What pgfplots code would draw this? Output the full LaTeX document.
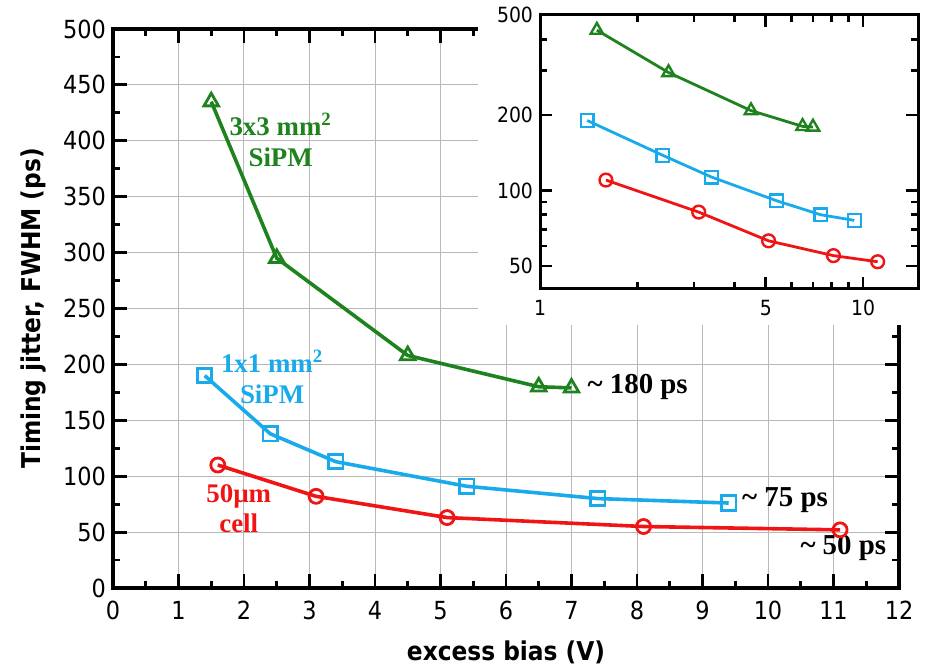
\documentclass[border=0pt]{standalone}
\usepackage{fontspec}
\setmainfont{Liberation Serif}
\newfontfamily\tickfont{DejaVu Sans Condensed}
\usepackage{pgfplots}
\pgfplotsset{compat=1.18}
\definecolor{cgreen}{RGB}{30,130,30}
\definecolor{cblue}{RGB}{25,170,235}
\definecolor{cred}{RGB}{240,20,20}
\pgfplotstableread{
x y
1.5 435
2.5 295
4.5 208
6.5 180
7.0 179
}\greendata
\pgfplotstableread{
x y
1.4 190
2.4 138
3.4 113
5.4 91
7.4 80
9.4 76
}\bluedata
\pgfplotstableread{
x y
1.6 110
3.1 82
5.1 63
8.1 55
11.1 52
}\reddata
\begin{document}
\begin{tikzpicture}
\useasboundingbox (-56.5bp,-41bp) rectangle (407bp,294bp);
\begin{axis}[at={(0,0)}, anchor=south west, scale only axis,
  width=393bp, height=279.5bp,
  xmin=0, xmax=12, ymin=0, ymax=500,
  xtick={0,...,12}, ytick={0,50,...,500},
  minor x tick num=1, minor y tick num=1,
  tick align=inside, major tick length=7bp, minor tick length=3.5bp,
  axis line style={line width=1.6bp},
  major tick style={black, line width=1.4bp},
  minor tick style={black, line width=1.4bp},
  grid=major,
  major grid style={black!28, line width=0.5bp},
  /pgf/number format/assume math mode=true,
  ticklabel style={font=\tickfont\fontsize{12.5}{14}\selectfont},
  xticklabel style={yshift=-3bp},
  xlabel={excess bias (V)}, ylabel={Timing jitter, FWHM (ps)},
  label style={font=\tickfont\bfseries\fontsize{13}{15}\selectfont},
  xlabel style={at={(axis description cs:0.5,-0.1288)}, anchor=base},
  ylabel style={at={(axis description cs:-0.1018,0.5)}, anchor=center},
  clip=false,
]
\addplot[cgreen, line width=1.8bp, mark=triangle, mark size=4.2bp, mark options={solid, fill=white, line width=1.4bp}] table[x=x,y=y] {\greendata};
\addplot[cblue, line width=1.8bp, mark=square, mark size=3.6bp, mark options={solid, fill=white, line width=1.4bp}] table[x=x,y=y] {\bluedata};
\addplot[cred, line width=1.8bp, mark=o, mark size=3.5bp, mark options={solid, fill=white, line width=1.4bp}] table[x=x,y=y] {\reddata};
\node[cgreen, font=\bfseries\fontsize{13.5}{15.5}\selectfont, align=center] at (axis cs:2.56,401) {3x3 mm\textsuperscript{2}\\SiPM};
\node[cblue, font=\bfseries\fontsize{13.5}{15.5}\selectfont, align=center] at (axis cs:2.43,189) {1x1 mm\textsuperscript{2}\\SiPM};
\node[cred, font=\bfseries\fontsize{13.5}{15.5}\selectfont, align=center] at (axis cs:1.92,71) {50µm\\cell};
\node[black, font=\bfseries\fontsize{14.5}{16}\selectfont, anchor=west, inner sep=0pt] at (axis cs:7.24,180) {\char126\ 180 ps};
\node[black, font=\bfseries\fontsize{14.5}{16}\selectfont, anchor=west, inner sep=0pt] at (axis cs:9.60,79) {\char126\ 75 ps};
\node[black, font=\bfseries\fontsize{14.5}{16}\selectfont, anchor=west, inner sep=0pt] at (axis cs:10.49,36) {\char126\ 50 ps};
\end{axis}
\fill[white] (182.5bp,131.5bp) rectangle (410bp,300bp);
\begin{axis}[at={(213.5bp,149.5bp)}, anchor=south west, scale only axis,
  width=189bp, height=137bp,
  xmode=log, ymode=log,
  xmin=1, xmax=14.8, ymin=40.5, ymax=500,
  xtick={1,5,10}, xticklabels={1,5,10},
  minor xtick={2,3,4,6,7,8,9},
  ytick={50,100,200,500}, yticklabels={50,100,200,500},
  minor ytick={60,70,80,90,300,400},
  tick align=inside, major tick length=6bp, minor tick length=3.5bp,
  axis line style={line width=1.5bp},
  major tick style={black, line width=1.3bp},
  minor tick style={black, line width=1.3bp},
  /pgf/number format/assume math mode=true,
  ticklabel style={font=\tickfont\fontsize{10.5}{12}\selectfont},
  xticklabel style={yshift=-2bp},
]
\addplot[cgreen, line width=1.4bp, mark=triangle, mark size=3.6bp, mark options={solid, fill=white, line width=1.2bp}] table[x=x,y=y] {\greendata};
\addplot[cblue, line width=1.4bp, mark=square, mark size=3.2bp, mark options={solid, fill=white, line width=1.2bp}] table[x=x,y=y] {\bluedata};
\addplot[cred, line width=1.4bp, mark=o, mark size=3.2bp, mark options={solid, fill=white, line width=1.2bp}] table[x=x,y=y] {\reddata};
\end{axis}
\end{tikzpicture}
\end{document}
